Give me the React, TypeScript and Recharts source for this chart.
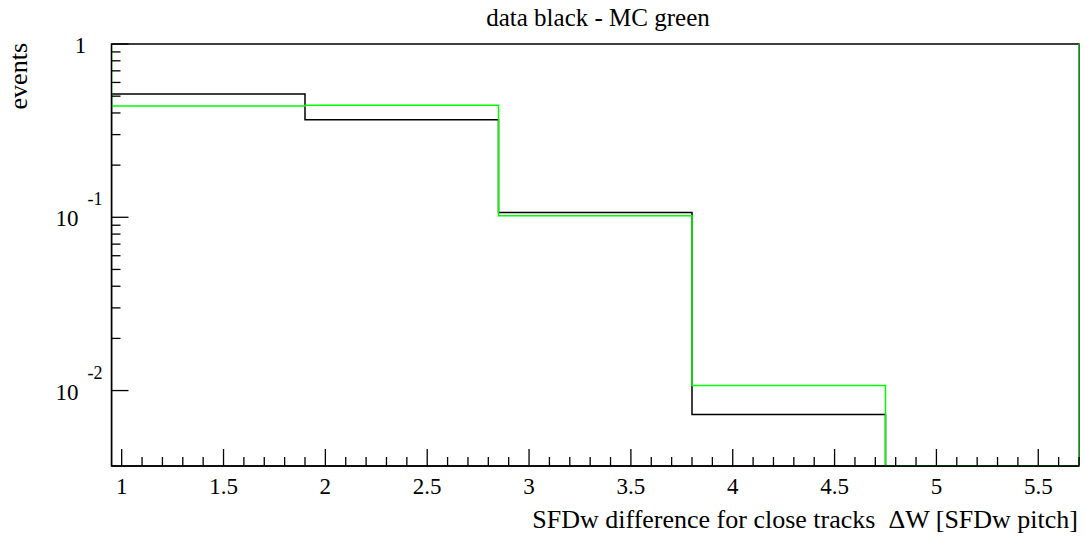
import { ComposedChart, Line, XAxis, YAxis, ReferenceArea } from 'recharts'

// bin edges of the histogram (SFDw pitch units)
const binEdges = [0.95, 1.9, 2.85, 3.8, 4.75, 5.7]
// normalised event counts per bin
const dataBlack = [0.515, 0.366, 0.1066, 0.00728, 0]
const mcGreen = [0.439, 0.443, 0.102, 0.0107, 0]

const xMajorTicks = [1, 1.5, 2, 2.5, 3, 3.5, 4, 4.5, 5, 5.5]
const yMajorTicks = [1, 0.1, 0.01]

const Y_MIN = 0.00367
const Y_MAX = 1
const FONT = 'Liberation Serif, DejaVu Serif, serif'

const xTicks: number[] = []
for (let i = 10; i <= 57; i++) xTicks.push(i / 10)

const yTicks: number[] = [...yMajorTicks]
for (const dec of yMajorTicks) {
    for (let m = 2; m <= 9; m++) {
        const v = +(m * dec).toPrecision(3)
        if (v >= Y_MIN && v < Y_MAX) yTicks.push(v)
    }
}

// turn per-bin values into a step outline; empty bins sit on the frame floor
function stepOutline(values: number[], startY: number, endY: number) {
    const pts: { x: number; y: number }[] = [{ x: binEdges[0], y: startY }]
    values.forEach((v, i) => {
        const y = v > 0 ? v : Y_MIN
        pts.push({ x: binEdges[i], y })
        pts.push({ x: binEdges[i + 1], y })
    })
    pts.push({ x: binEdges[binEdges.length - 1], y: endY })
    return pts
}

const blackPts = stepOutline(dataBlack, Y_MIN, Y_MIN)
const greenPts = stepOutline(mcGreen, Y_MAX, Y_MAX)

const isXMajor = (v: number) => xMajorTicks.some(t => Math.abs(t - v) < 1e-6)

const txt = { fontFamily: FONT, fill: '#000' }

function XTick(props: any) {
    const { x, y, payload } = props
    const major = isXMajor(payload.value)
    return (
        <g>
            <line x1={x} x2={x} y1={y} y2={y - (major ? 17 : 9)} stroke="#000" strokeWidth={1.3} />
            {major && (
                <text x={x} y={y + 28} textAnchor="middle" fontSize={23} style={txt}>
                    {payload.value}
                </text>
            )}
        </g>
    )
}

function YTick(props: any) {
    const { x, y, payload } = props
    const v = payload.value
    const exp = Math.round(Math.log10(v))
    const major = yMajorTicks.some(t => Math.abs(t - v) < 1e-9)
    return (
        <g>
            <line x1={x} x2={x + (major ? 17 : 9)} y1={y} y2={y} stroke="#000" strokeWidth={1.3} />
            {major && exp === 0 && (
                <text x={x - 31} y={y + 9} textAnchor="middle" fontSize={23} style={txt}>1</text>
            )}
            {major && exp !== 0 && (
                <g>
                    <text x={x - 33} y={y + 9} textAnchor="end" fontSize={23} style={txt}>10</text>
                    <text x={x - 24} y={y - 12} textAnchor="start" fontSize={18} style={txt}>{exp}</text>
                </g>
            )}
        </g>
    )
}

export default function App() {
    return (
        <div style={{ position: 'absolute', left: 0, top: 0, width: 1086, height: 543, background: '#fff' }}>
            <ComposedChart width={1086} height={543} margin={{ top: 44, right: 7, left: 110.5, bottom: 76 }}>
                <XAxis
                    dataKey="x"
                    type="number"
                    domain={[binEdges[0], binEdges[binEdges.length - 1]]}
                    allowDataOverflow
                    ticks={xTicks}
                    interval={0}
                    height={1}
                    tickSize={0}
                    tickMargin={0}
                    tick={<XTick />}
                    axisLine={{ stroke: '#000', strokeWidth: 1.3 }}
                    tickLine={false}
                />
                <YAxis
                    dataKey="y"
                    type="number"
                    scale="log"
                    domain={[Y_MIN, Y_MAX]}
                    allowDataOverflow
                    ticks={yTicks}
                    interval={0}
                    width={1}
                    tickSize={0}
                    tickMargin={0}
                    tick={<YTick />}
                    axisLine={{ stroke: '#000', strokeWidth: 1.3 }}
                    tickLine={false}
                />
                <ReferenceArea
                    x1={binEdges[0]}
                    x2={binEdges[binEdges.length - 1]}
                    y1={Y_MIN}
                    y2={Y_MAX}
                    fill="none"
                    fillOpacity={0}
                    stroke="#000"
                    strokeWidth={1.3}
                    ifOverflow="visible"
                />
                <Line
                    data={blackPts}
                    dataKey="y"
                    type="linear"
                    stroke="#000"
                    strokeWidth={1.5}
                    dot={false}
                    activeDot={false}
                    isAnimationActive={false}
                />
                <Line
                    data={greenPts}
                    dataKey="y"
                    type="linear"
                    stroke="#00ff00"
                    strokeWidth={1.5}
                    dot={false}
                    activeDot={false}
                    isAnimationActive={false}
                />
            </ComposedChart>
            <svg width={1086} height={543} style={{ position: 'absolute', left: 0, top: 0, pointerEvents: 'none' }}>
                <text x={598} y={26} textAnchor="middle" fontSize={25} style={txt}>
                    data black - MC green
                </text>
                <text x={1078} y={528} textAnchor="end" fontSize={26} style={{ ...txt, whiteSpace: 'pre' }}>
                    SFDw difference for close tracks  ΔW [SFDw pitch]
                </text>
                <text x={27} y={43} transform="rotate(-90 27 43)" textAnchor="end" fontSize={26} style={txt}>
                    events
                </text>
            </svg>
        </div>
    )
}
